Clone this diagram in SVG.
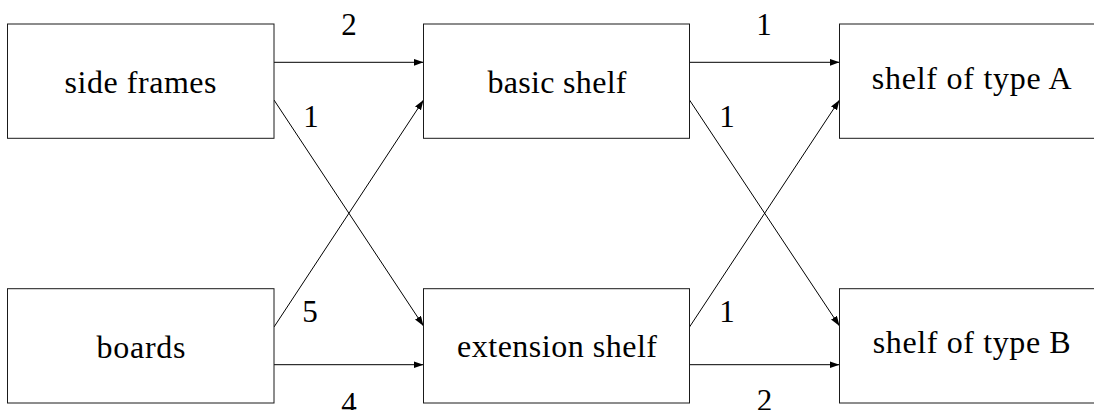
<svg xmlns="http://www.w3.org/2000/svg" width="1094" height="410" viewBox="0 0 1094 410">
  <style>
    .box { fill: #ffffff; stroke: #1a1a1a; stroke-width: 1; }
    .lbl { font-family: "Liberation Serif", "Times New Roman", serif; font-size: 32px; fill: #000000; text-anchor: middle; }
    .num { font-family: "Liberation Serif", "Times New Roman", serif; font-size: 31px; fill: #000000; text-anchor: middle; }
    .edge { fill: none; stroke: #000000; stroke-width: 1; marker-end: url(#arrow); }
  </style>
  <defs>
    <marker id="arrow" markerUnits="userSpaceOnUse" markerWidth="12" markerHeight="10" refX="10" refY="3.5" orient="auto">
      <path d="M0,0 L10,3.5 L0,7 Z" fill="#000000"/>
    </marker>
  </defs>
  <rect width="1094" height="410" fill="#ffffff"/>

  <!-- connectors -->
  <g id="connectors">
    <line class="edge" x1="274" y1="62.3" x2="423.5" y2="62.3"/>
    <line class="edge" x1="274" y1="100" x2="423.5" y2="326"/>
    <line class="edge" x1="274" y1="327" x2="423.5" y2="100"/>
    <line class="edge" x1="274" y1="364.7" x2="423.5" y2="364.7"/>
    <line class="edge" x1="689.5" y1="62.3" x2="839.5" y2="62.3"/>
    <line class="edge" x1="689.5" y1="100" x2="839.5" y2="326"/>
    <line class="edge" x1="689.5" y1="327" x2="839.5" y2="100"/>
    <line class="edge" x1="689.5" y1="364.7" x2="839.5" y2="364.7"/>
  </g>

  <!-- edge quantities -->
  <g id="quantities">
    <text class="num" x="349" y="35">2</text>
    <text class="num" x="311" y="127">1</text>
    <text class="num" x="310" y="322">5</text>
    <text class="num" x="349" y="414">4</text>
    <text class="num" x="764" y="35">1</text>
    <text class="num" x="727" y="127">1</text>
    <text class="num" x="727" y="322">1</text>
    <text class="num" x="764.5" y="411">2</text>
  </g>

  <g id="side-frames">
    <rect class="box" x="7.5" y="24" width="266.5" height="114.3"/>
    <text class="lbl" x="140.5" y="93.3" textLength="152">side frames</text>
  </g>
  <g id="boards">
    <rect class="box" x="7.5" y="288.7" width="266.5" height="114.3"/>
    <text class="lbl" x="141" y="357.7" textLength="89">boards</text>
  </g>
  <g id="basic-shelf">
    <rect class="box" x="423.5" y="24" width="266" height="114.3"/>
    <text class="lbl" x="557" y="92.7" textLength="139">basic shelf</text>
  </g>
  <g id="extension-shelf">
    <rect class="box" x="423.5" y="288.7" width="266" height="114.3"/>
    <text class="lbl" x="557" y="356.7" textLength="200">extension shelf</text>
  </g>
  <g id="shelf-type-a">
    <rect class="box" x="839.5" y="24" width="266" height="114.3"/>
    <text class="lbl" x="971.7" y="89.3" textLength="200">shelf of type A</text>
  </g>
  <g id="shelf-type-b">
    <rect class="box" x="839.5" y="288.7" width="266" height="114.3"/>
    <text class="lbl" x="971.7" y="353.3" textLength="198">shelf of type B</text>
  </g>
</svg>
